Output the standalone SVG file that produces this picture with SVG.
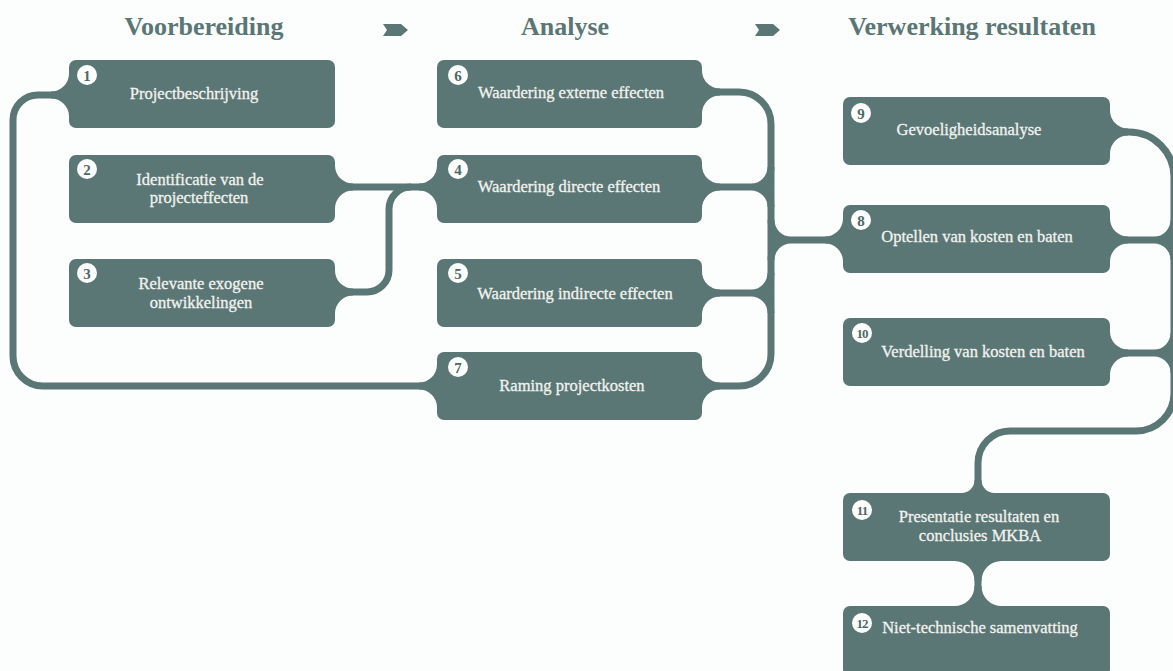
<svg xmlns="http://www.w3.org/2000/svg" width="1173" height="671" viewBox="0 0 1173 671">
<style>
.bg{fill:#fcfdfd}
.box{fill:#5a7675}
.fil{fill:#5a7675}
.con{fill:none;stroke:#5a7675;stroke-width:7;stroke-linecap:butt}
.hdr{font-family:"Liberation Serif",serif;font-weight:bold;font-size:26px;fill:#5a7675;text-anchor:middle}
.lbl{font-family:"Liberation Serif",serif;font-size:16.5px;fill:#f2f3ef;stroke:#f2f3ef;stroke-width:0.3;text-anchor:middle}
.num{fill:#ffffff}
.nt{font-family:"Liberation Serif",serif;font-size:15px;fill:#4d6867;text-anchor:middle;font-weight:bold}
.nt2{font-family:"Liberation Serif",serif;font-size:13px;fill:#4d6867;text-anchor:middle;font-weight:bold;letter-spacing:-1px}
.arr{fill:#5a7675}
</style>
<rect class="bg" x="0" y="0" width="1173" height="671"/>

<g id="headers">
<text class="hdr" x="204" y="35">Voorbereiding</text>
<text class="hdr" x="565" y="35">Analyse</text>
<text class="hdr" x="972" y="35">Verwerking resultaten</text>
<path class="arr" d="M383 24 L401 24 L408 30 L401 36 L383 36 L387 30 Z"/>
<path class="arr" d="M755 24 L773 24 L780 30 L773 36 L755 36 L759 30 Z"/>
</g>

<g id="connectors">
<path class="con" d="M69 95 H38 A25 25 0 0 0 13 120 V356 A30 30 0 0 0 43 386 H437"/>
<path class="con" d="M335 187 H437"/>
<path class="con" d="M335 292 H367 A22 22 0 0 0 389 270 V209 A22 22 0 0 1 411 187"/>
<path class="con" d="M702 92 H739 A32 32 0 0 1 771 124 V354 A32 32 0 0 1 739 386 H702"/>
<path class="con" d="M702 187 H771 M751 187 A20 20 0 0 0 771 167 M751 187 A20 20 0 0 1 771 207"/>
<path class="con" d="M702 293 H771 M751 293 A20 20 0 0 0 771 273 M751 293 A20 20 0 0 1 771 313"/>
<path class="con" d="M843 240 H771 M791 240 A20 20 0 0 1 771 220 M791 240 A20 20 0 0 0 771 260"/>
<path class="con" d="M1110 132 H1129 A45 45 0 0 1 1174 177 V393 A38 38 0 0 1 1136 431 H1010 A32 32 0 0 0 978 463 V493"/>
<path class="con" d="M1110 240 H1174 M1154 240 A20 20 0 0 0 1174 220 M1154 240 A20 20 0 0 1 1174 260"/>
<path class="con" d="M1110 353 H1174 M1154 353 A20 20 0 0 0 1174 333 M1154 353 A20 20 0 0 1 1174 373"/>
<path class="con" d="M978 561 V606"/>
<path class="fil" d="M69 73.5 A18 18 0 0 1 51 91.5 L51 98.5 A18 18 0 0 1 69 116.5 Z"/>
<path class="fil" d="M335 165.5 A18 18 0 0 0 353 183.5 L353 190.5 A18 18 0 0 0 335 208.5 Z"/>
<path class="fil" d="M437 165.5 A18 18 0 0 1 419 183.5 L419 190.5 A18 18 0 0 1 437 208.5 Z"/>
<path class="fil" d="M335 270.5 A18 18 0 0 0 353 288.5 L353 295.5 A18 18 0 0 0 335 313.5 Z"/>
<path class="fil" d="M437 364.5 A18 18 0 0 1 419 382.5 L419 389.5 A18 18 0 0 1 437 407.5 Z"/>
<path class="fil" d="M702 70.5 A18 18 0 0 0 720 88.5 L720 95.5 A18 18 0 0 0 702 113.5 Z"/>
<path class="fil" d="M702 165.5 A18 18 0 0 0 720 183.5 L720 190.5 A18 18 0 0 0 702 208.5 Z"/>
<path class="fil" d="M702 271.5 A18 18 0 0 0 720 289.5 L720 296.5 A18 18 0 0 0 702 314.5 Z"/>
<path class="fil" d="M702 364.5 A18 18 0 0 0 720 382.5 L720 389.5 A18 18 0 0 0 702 407.5 Z"/>
<path class="fil" d="M843 218.5 A18 18 0 0 1 825 236.5 L825 243.5 A18 18 0 0 1 843 261.5 Z"/>
<path class="fil" d="M1110 110.5 A18 18 0 0 0 1128 128.5 L1128 135.5 A18 18 0 0 0 1110 153.5 Z"/>
<path class="fil" d="M1110 218.5 A18 18 0 0 0 1128 236.5 L1128 243.5 A18 18 0 0 0 1110 261.5 Z"/>
<path class="fil" d="M1110 331.5 A18 18 0 0 0 1128 349.5 L1128 356.5 A18 18 0 0 0 1110 374.5 Z"/>
<path class="fil" d="M961.5 493 A13 13 0 0 0 974.5 480 L981.5 480 A13 13 0 0 0 994.5 493 Z"/>
<path class="fil" d="M954.5 561 A20 20 0 0 1 974.5 581 L981.5 581 A20 20 0 0 1 1001.5 561 Z"/>
<path class="fil" d="M954.5 606 A20 20 0 0 0 974.5 586 L981.5 586 A20 20 0 0 0 1001.5 606 Z"/>
</g>

<g id="node1">
<rect class="box" x="69" y="60" width="266" height="68" rx="7"/>
<circle class="num" cx="87" cy="75" r="10"/><text class="nt" x="87" y="80.5">1</text>
<text class="lbl" x="194" y="99">Projectbeschrijving</text>
</g>
<g id="node2">
<rect class="box" x="69" y="155" width="266" height="68" rx="7"/>
<circle class="num" cx="87" cy="169" r="10"/><text class="nt" x="87" y="174.5">2</text>
<text class="lbl" x="200" y="185">Identificatie van de</text>
<text class="lbl" x="199" y="203">projecteffecten</text>
</g>
<g id="node3">
<rect class="box" x="69" y="259" width="266" height="68" rx="7"/>
<circle class="num" cx="87" cy="273" r="10"/><text class="nt" x="87" y="278.5">3</text>
<text class="lbl" x="201" y="289">Relevante exogene</text>
<text class="lbl" x="201" y="308">ontwikkelingen</text>
</g>
<g id="node6">
<rect class="box" x="437" y="60" width="265" height="68" rx="7"/>
<circle class="num" cx="458" cy="75" r="10"/><text class="nt" x="458" y="80.5">6</text>
<text class="lbl" x="571" y="98">Waardering externe effecten</text>
</g>
<g id="node4">
<rect class="box" x="437" y="155" width="265" height="68" rx="7"/>
<circle class="num" cx="458" cy="169" r="10"/><text class="nt" x="458" y="174.5">4</text>
<text class="lbl" x="569" y="192">Waardering directe effecten</text>
</g>
<g id="node5">
<rect class="box" x="437" y="259" width="265" height="68" rx="7"/>
<circle class="num" cx="458" cy="273" r="10"/><text class="nt" x="458" y="278.5">5</text>
<text class="lbl" x="575" y="299">Waardering indirecte effecten</text>
</g>
<g id="node7">
<rect class="box" x="437" y="352" width="265" height="68" rx="7"/>
<circle class="num" cx="458" cy="367" r="10"/><text class="nt" x="458" y="372.5">7</text>
<text class="lbl" x="572" y="391">Raming projectkosten</text>
</g>
<g id="node9">
<rect class="box" x="843" y="97" width="267" height="68" rx="7"/>
<circle class="num" cx="861" cy="113" r="10"/><text class="nt" x="861" y="118.5">9</text>
<text class="lbl" x="969" y="135">Gevoeligheidsanalyse</text>
</g>
<g id="node8">
<rect class="box" x="843" y="205" width="267" height="68" rx="7"/>
<circle class="num" cx="861" cy="220" r="10"/><text class="nt" x="861" y="225.5">8</text>
<text class="lbl" x="977" y="242">Optellen van kosten en baten</text>
</g>
<g id="node10">
<rect class="box" x="843" y="318" width="267" height="68" rx="7"/>
<circle class="num" cx="862" cy="333" r="10"/><text class="nt2" x="862" y="337.5">10</text>
<text class="lbl" x="983" y="357">Verdelling van kosten en baten</text>
</g>
<g id="node11">
<rect class="box" x="843" y="493" width="267" height="68" rx="7"/>
<circle class="num" cx="862" cy="510" r="10"/><text class="nt2" x="862" y="514.5">11</text>
<text class="lbl" x="979" y="522">Presentatie resultaten en</text>
<text class="lbl" x="980" y="541">conclusies MKBA</text>
</g>
<g id="node12">
<rect class="box" x="843" y="606" width="267" height="70" rx="7"/>
<circle class="num" cx="862" cy="623" r="10"/><text class="nt2" x="862" y="627.5">12</text>
<text class="lbl" x="980" y="633">Niet-technische samenvatting</text>
</g>
</svg>
